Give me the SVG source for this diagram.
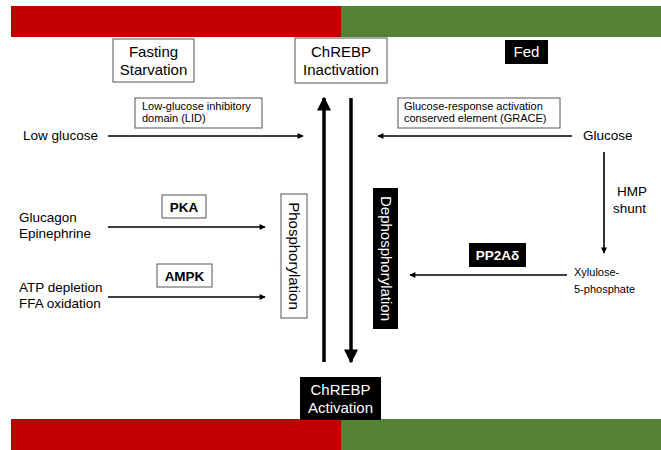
<svg xmlns="http://www.w3.org/2000/svg" width="661" height="450" viewBox="0 0 661 450">
  <style>
    text { font-family: "Liberation Sans", Arial, sans-serif; fill: #000; }
    .big { font-size: 15px; }
    .mid { font-size: 13.5px; }
    .small { font-size: 11px; }
    .bold { font-weight: bold; font-size: 13.5px; }
    .inv { fill: #fff; }
    .box { fill: #fff; stroke: #555; stroke-width: 1; }
    .blk { fill: #000; }
    .thin { stroke: #000; stroke-width: 1.6; fill: none; }
    .thick { stroke: #000; stroke-width: 3.5; fill: none; }
  </style>
  <defs>
    <marker id="head" viewBox="0 0 10 10" refX="9" refY="5" markerWidth="7" markerHeight="6" markerUnits="userSpaceOnUse" orient="auto">
      <path d="M0,0 L10,5 L0,10 z" fill="#000"/>
    </marker>
    <marker id="headBig" viewBox="0 0 10 10" refX="9" refY="5" markerWidth="14" markerHeight="14" markerUnits="userSpaceOnUse" orient="auto">
      <path d="M0,0 L10,5 L0,10 z" fill="#000"/>
    </marker>
  </defs>

  <!-- state bars: fasting (red) / fed (green) -->
  <rect x="11" y="6" width="330" height="31" fill="#c00000"/>
  <rect x="341" y="6" width="320" height="31" fill="#548235"/>
  <rect x="11" y="419" width="330" height="31" fill="#c00000"/>
  <rect x="341" y="419" width="320" height="31" fill="#548235"/>

  <g id="connectors">
    <line class="thin" x1="108" y1="136" x2="303" y2="136" marker-end="url(#head)"/>
    <line class="thin" x1="572" y1="136" x2="378" y2="136" marker-end="url(#head)"/>
    <line class="thin" x1="108" y1="227" x2="265" y2="227" marker-end="url(#head)"/>
    <line class="thin" x1="108" y1="297" x2="265" y2="297" marker-end="url(#head)"/>
    <line class="thin" x1="604" y1="152" x2="604" y2="253" marker-end="url(#head)"/>
    <line class="thin" x1="567" y1="275" x2="410" y2="275" marker-end="url(#head)"/>
    <line class="thick" x1="324" y1="362" x2="324" y2="98" marker-end="url(#headBig)"/>
    <line class="thick" x1="351" y1="98" x2="351" y2="362" marker-end="url(#headBig)"/>
  </g>

  <g id="fasting">
    <rect class="box" x="113" y="39" width="81" height="43"/>
    <text class="big" x="153.5" y="57" text-anchor="middle">Fasting</text>
    <text class="big" x="153.5" y="75" text-anchor="middle">Starvation</text>
  </g>

  <g id="inactivation">
    <rect class="box" x="295" y="38" width="92" height="45"/>
    <text class="big" x="341" y="57" text-anchor="middle">ChREBP</text>
    <text class="big" x="341" y="75" text-anchor="middle">Inactivation</text>
  </g>

  <g id="fed">
    <rect class="blk" x="505" y="40" width="43" height="24"/>
    <text class="big inv" x="526.5" y="57" text-anchor="middle">Fed</text>
  </g>

  <g id="lid">
    <rect class="box" x="135" y="98" width="127" height="30"/>
    <text class="small" x="142" y="110">Low-glucose inhibitory</text>
    <text class="small" x="142" y="122">domain (LID)</text>
  </g>

  <g id="grace">
    <rect class="box" x="398" y="98" width="162" height="30"/>
    <text class="small" x="404" y="110">Glucose-response activation</text>
    <text class="small" x="404" y="122">conserved element (GRACE)</text>
  </g>

  <g id="low-glucose">
    <text class="mid" x="23" y="140">Low glucose</text>
  </g>

  <g id="glucose">
    <text class="mid" x="583" y="140">Glucose</text>
  </g>

  <g id="hormones">
    <text class="mid" x="19" y="222">Glucagon</text>
    <text class="mid" x="19" y="238">Epinephrine</text>
  </g>

  <g id="energy">
    <text class="mid" x="19" y="292">ATP depletion</text>
    <text class="mid" x="19" y="308">FFA oxidation</text>
  </g>

  <g id="pka">
    <rect class="box" x="162" y="195" width="44" height="23"/>
    <text class="bold" x="184" y="211.5" text-anchor="middle">PKA</text>
  </g>

  <g id="ampk">
    <rect class="box" x="157" y="264" width="55" height="23"/>
    <text class="bold" x="184.5" y="280.5" text-anchor="middle">AMPK</text>
  </g>

  <g id="phosphorylation">
    <rect class="box" x="281" y="194" width="26" height="124"/>
    <text class="big" transform="translate(289,256) rotate(90)" text-anchor="middle">Phosphorylation</text>
  </g>

  <g id="dephosphorylation">
    <rect class="blk" x="373" y="188" width="25" height="141"/>
    <text class="big inv" transform="translate(380.5,258.5) rotate(90)" text-anchor="middle">Dephosphorylation</text>
  </g>

  <g id="hmp-shunt">
    <text class="mid" x="617" y="196">HMP</text>
    <text class="mid" x="613" y="213">shunt</text>
  </g>

  <g id="xylulose">
    <text class="small" x="574" y="276">Xylulose-</text>
    <text class="small" x="574" y="293">5-phosphate</text>
  </g>

  <g id="pp2a">
    <rect class="blk" x="469" y="243" width="57" height="24"/>
    <text class="bold inv" x="497.5" y="260" text-anchor="middle">PP2Aδ</text>
  </g>

  <g id="activation">
    <rect class="blk" x="300" y="377" width="81" height="43"/>
    <text class="big inv" x="340.5" y="395" text-anchor="middle">ChREBP</text>
    <text class="big inv" x="340.5" y="413" text-anchor="middle">Activation</text>
  </g>
</svg>
